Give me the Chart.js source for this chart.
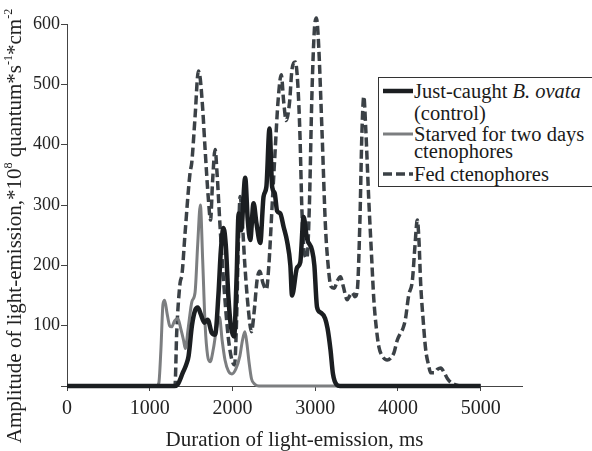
<!DOCTYPE html>
<html>
<head>
<meta charset="utf-8">
<script src="https://cdn.jsdelivr.net/npm/chart.js@4/dist/chart.umd.min.js"></script>
<style>
  html, body { margin: 0; padding: 0; background: #fff; }
  #wrap { position: relative; width: 592px; height: 451px; overflow: hidden; font-family: "Liberation Serif", "Times New Roman", serif; color: #222; }
  #chart { position: absolute; left: 0; top: 0; }
  #ytitle { position: absolute; left: -206px; top: 214px; width: 440px; height: 24px; line-height: 24px; text-align: center; white-space: nowrap; font-family: "Liberation Serif", serif; font-size: 21px; transform: rotate(-90deg); transform-origin: 50% 50%; }
  #ytitle sup { font-size: 12px; vertical-align: 0; position: relative; top: -9px; }
  #legend { position: absolute; left: 378px; top: 77px; width: 230px; height: 108px; border: 1px solid #333; background: #fff; }
  #legend .t { position: absolute; left: 35px; white-space: nowrap; font-family: "Liberation Serif", serif; font-size: 20.5px; line-height: 20px; color: #1a1a1a; }
  #legend svg { position: absolute; left: 0; top: 0; }
</style>
</head>
<body>
<div id="wrap">
  <canvas id="chart" width="592" height="451"></canvas>
  <div id="ytitle">Amplitude of light-emission,*10<sup>8</sup> quantum*s<sup>-1</sup>*cm<sup>-2</sup></div>
  <div id="legend">
    <svg width="40" height="108">
      <line x1="4" y1="13" x2="34" y2="13" stroke="#1b1e21" stroke-width="4.5"/>
      <line x1="4" y1="56" x2="34" y2="56" stroke="#7c7e80" stroke-width="3"/>
      <line x1="4" y1="96" x2="34" y2="96" stroke="#3b4146" stroke-width="3.5" stroke-dasharray="9,4"/>
    </svg>
    <div class="t" style="top:3px">Just-caught <i>B. ovata</i></div>
    <div class="t" style="top:25px">(control)</div>
    <div class="t" style="top:46px">Starved for two days</div>
    <div class="t" style="top:63px">ctenophores</div>
    <div class="t" style="top:86px">Fed ctenophores</div>
  </div>
</div>
<script>
const ctx = document.getElementById("chart").getContext("2d");

// Data (time in ms, amplitude in 10^8 quantum/s/cm2)
const justCaughtMs = [0, 1300, 1340, 1400, 1440, 1470, 1510, 1548, 1580, 1620, 1660, 1700, 1750, 1790, 1830, 1860, 1892, 1920, 1950, 1980, 2020, 2050, 2075, 2105, 2154, 2185, 2215, 2255, 2290, 2336, 2376, 2410, 2448, 2480, 2510, 2540, 2578, 2618, 2660, 2700, 2720, 2780, 2820, 2860, 2900, 2962, 2990, 3022, 3063, 3120, 3150, 3185, 3215, 3260, 3300, 5000];
const justCaughtAmp = [0, 0, 3, 22, 35, 50, 100, 125, 130, 118, 105, 110, 88, 85, 150, 225, 262, 232, 150, 100, 82, 180, 286, 258, 345, 275, 242, 303, 270, 237, 314, 330, 427, 330, 320, 290, 286, 264, 240, 200, 150, 196, 205, 280, 245, 225, 200, 131, 122, 112, 95, 60, 20, 2, 0, 0];

const starvedMs = [0, 1080, 1110, 1135, 1160, 1180, 1210, 1240, 1265, 1300, 1340, 1375, 1410, 1430, 1467, 1510, 1548, 1580, 1612, 1640, 1670, 1700, 1730, 1770, 1810, 1843, 1875, 1910, 1950, 1993, 2040, 2090, 2120, 2150, 2175, 2200, 2230, 2270, 2320, 5000];
const starvedAmp = [0, 0, 5, 60, 135, 142, 120, 100, 98, 108, 112, 95, 75, 62, 98, 140, 155, 235, 300, 209, 100, 50, 40, 62, 98, 114, 76, 43, 25, 20, 28, 50, 75, 90, 70, 40, 12, 3, 0, 0];

const fedMs = [0, 1290, 1306, 1326, 1366, 1390, 1427, 1487, 1508, 1548, 1588, 1610, 1640, 1670, 1710, 1735, 1760, 1790, 1815, 1850, 1900, 1950, 1990, 2025, 2050, 2070, 2093, 2120, 2150, 2190, 2230, 2260, 2300, 2330, 2370, 2410, 2440, 2480, 2520, 2550, 2590, 2620, 2650, 2690, 2720, 2760, 2790, 2815, 2840, 2870, 2900, 2930, 2960, 2990, 3015, 3040, 3083, 3124, 3160, 3190, 3230, 3270, 3306, 3340, 3387, 3420, 3447, 3480, 3510, 3540, 3565, 3588, 3610, 3648, 3680, 3709, 3740, 3770, 3820, 3871, 3910, 3952, 3990, 4033, 4060, 4090, 4130, 4175, 4205, 4235, 4255, 4275, 4305, 4336, 4370, 4396, 4440, 4480, 4518, 4560, 4600, 4640, 4700, 4760, 5000];
const fedAmp = [0, 0, 2, 88, 170, 185, 253, 353, 370, 446, 522, 510, 460, 391, 308, 275, 340, 392, 350, 265, 160, 80, 45, 35, 110, 230, 314, 270, 200, 130, 90, 120, 178, 190, 170, 160, 200, 300, 400, 470, 516, 470, 440, 470, 525, 537, 500, 420, 290, 220, 212, 300, 480, 590, 610, 570, 420, 265, 195, 165, 162, 175, 181, 165, 143, 150, 155, 148, 160, 270, 420, 480, 430, 308, 220, 143, 95, 65, 48, 43, 46, 55, 75, 88, 95, 110, 150, 175, 230, 275, 240, 170, 110, 60, 35, 22, 22, 28, 30, 22, 12, 6, 2, 0, 0];

const xTicks = [0, 1000, 2000, 3000, 4000, 5000];

const serif = "'Liberation Serif', 'Times New Roman', serif";
const toPoints = (xs, ys) => xs.map((x, i) => ({ x: x, y: ys[i] }));

const data = {
  datasets: [
    {
      label: "Just-caught B. ovata (control)",
      data: toPoints(justCaughtMs, justCaughtAmp),
      borderColor: "#1b1e21",
      borderWidth: 4.5,
    },
    {
      label: "Starved for two days ctenophores",
      data: toPoints(starvedMs, starvedAmp),
      borderColor: "#7c7e80",
      borderWidth: 3,
    },
    {
      label: "Fed ctenophores",
      data: toPoints(fedMs, fedAmp),
      borderColor: "#3b4146",
      borderWidth: 3.5,
      borderDash: [9, 4],
    },
  ],
};

const options = {
  responsive: false,
  animation: false,
  layout: { padding: { top: 24, right: 70, left: 0, bottom: 0 } },
  elements: {
    point: { radius: 0 },
    line: { cubicInterpolationMode: "monotone", fill: false },
  },
  datasets: { line: { clip: false } },
  plugins: {
    legend: { display: false },
    tooltip: { enabled: false },
  },
  scales: {
    x: {
      type: "linear",
      min: 0,
      max: 5500,
      afterFit: (s) => { s.height = 65; },
      afterBuildTicks: (s) => { s.ticks = xTicks.map(v => ({ value: v })); },
      border: { display: true, color: "#444", width: 1 },
      grid: { display: true, drawOnChartArea: false, drawTicks: true, tickLength: 5, color: "#444" },
      ticks: {
        color: "#222",
        font: { family: serif, size: 20 },
        padding: 6,
        maxRotation: 0,
        callback: (v) => String(v),
      },
      title: {
        display: true,
        text: "Duration of light-emission, ms",
        color: "#222",
        font: { family: serif, size: 21, lineHeight: 1.0 },
        padding: { top: 0, bottom: 0 },
      },
    },
    y: {
      min: 0,
      max: 600,
      afterFit: (s) => { s.width = 67; },
      border: { display: true, color: "#444", width: 1 },
      grid: { display: true, drawOnChartArea: false, drawTicks: true, tickLength: 6, color: "#444" },
      ticks: {
        stepSize: 100,
        color: "#222",
        font: { family: serif, size: 18 },
        padding: 1,
        callback: (v) => (v === 0 ? "" : String(v)),
      },
    },
  },
};

new Chart(ctx, { type: "line", data: data, options: options });
</script>
</body>
</html>
